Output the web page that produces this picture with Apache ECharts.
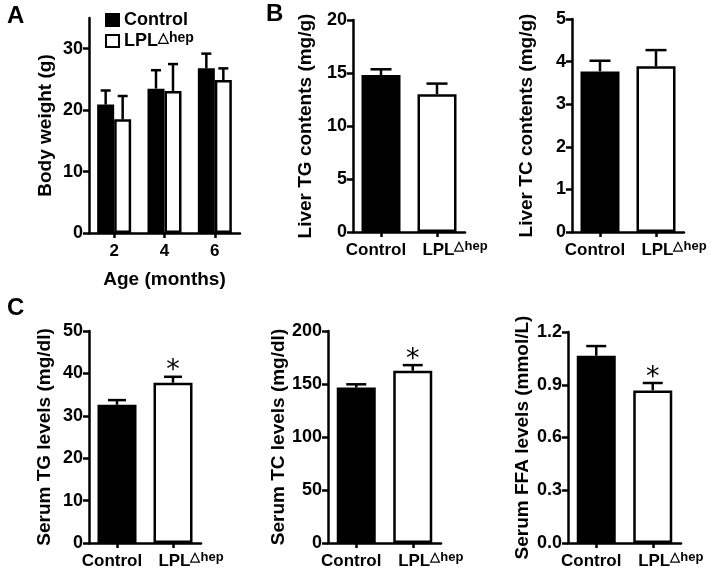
<!DOCTYPE html>
<html>
<head>
<meta charset="utf-8">
<script src="https://cdn.jsdelivr.net/npm/echarts@6/dist/echarts.min.js"></script>
<style>html,body{margin:0;padding:0;background:#fff}#c{width:711px;height:570px}</style>
</head>
<body>
<div id="c"></div>
<script>
// ---- data ----
const ageCats = ['2', '4', '6'];
const bwControl = [20.9, 23.5, 26.8];
const bwControlErr = [2.3, 3.0, 2.4];
const bwLPL = [18.5, 23.1, 24.9];
const bwLPLErr = [3.8, 4.4, 1.9];

const groupCats = ['Control', 'LPL△hep'];
const liverTG = [14.8, 13.0];
const liverTGErr = [0.55, 1.0];
const liverTC = [3.77, 3.89];
const liverTCErr = [0.25, 0.38];
const serumTG = [32.6, 37.8];
const serumTGErr = [1.1, 1.4];
const serumTC = [146.6, 162.5];
const serumTCErr = [3.1, 5.3];
const serumFFA = [1.065, 0.868];
const serumFFAErr = [0.055, 0.042];
const sigTG = [false, true];
const sigTC = [false, true];
const sigFFA = [false, true];

const bwTicks = [0, 10, 20, 30];

// ---- styling ----
const FONT = "'Liberation Sans', Arial, Helvetica, sans-serif";
const AX_W = 2.5;
const chart = echarts.init(document.getElementById('c'), null, {renderer: 'canvas'});

const grids = [
  {left: 89, top: 18, width: 151, height: 215},   // A
  {left: 353, top: 20, width: 112, height: 212},  // B left
  {left: 572, top: 19, width: 112, height: 213},  // B right
  {left: 89, top: 331, width: 112, height: 213},  // C left
  {left: 328, top: 331, width: 113, height: 213}, // C mid
  {left: 568, top: 332, width: 113, height: 213}  // C right
];

const axisLineStyle = {show: true, lineStyle: {color: '#000', width: AX_W}};
const tickStyle = {show: true, length: 6, lineStyle: {color: '#000', width: AX_W}};

function catLabelFormatter(v) {
  if (v === 'LPL△hep') return '{pad|}{a|LPL}{b|△hep}';
  if (v === 'Control') return '{a|Control}{pr|}';
  return '{a|' + v + '}';
}
const catRich = {
  a: {fontFamily: FONT, fontWeight: 'bold', fontSize: 17, color: '#000', lineHeight: 20},
  b: {fontFamily: FONT, fontWeight: 'bold', fontSize: 13, color: '#000', verticalAlign: 'top', lineHeight: 20, padding: [0, 0, 6, 0]},
  pad: {width: 36},
  pr: {width: 10}
};

function xAxisCat(gi, cats, extra) {
  return Object.assign({
    type: 'category', gridIndex: gi, data: cats,
    axisLine: axisLineStyle,
    axisTick: {show: true, alignWithLabel: true, length: 5, lineStyle: {color: '#000', width: AX_W}},
    axisLabel: {margin: 8, formatter: catLabelFormatter, rich: catRich, interval: 0},
    splitLine: {show: false}
  }, extra || {});
}
function yAxisVal(gi, max, interval, name, nameGap, fmt, custom) {
  const ax = {
    type: 'value', gridIndex: gi, min: 0, max: max, interval: interval,
    name: name, nameLocation: 'middle', nameRotate: 90, nameGap: nameGap,
    nameTextStyle: {fontFamily: FONT, fontWeight: 'bold', fontSize: 19, color: '#000'},
    axisLine: axisLineStyle,
    axisTick: Object.assign({}, tickStyle),
    axisLabel: {fontFamily: FONT, fontWeight: 'bold', fontSize: 18, color: '#000', margin: 6},
    splitLine: {show: false}
  };
  if (fmt) ax.axisLabel.formatter = fmt;
  if (custom) {
    ax.axisLabel.customValues = custom;
    ax.axisTick.customValues = custom;
  }
  return ax;
}

function errSeries(xi, yi, vals, errs, offset, cap, sig) {
  return {
    type: 'custom', xAxisIndex: xi, yAxisIndex: yi, z: 5,
    data: vals.map((v, i) => [i, v, errs[i], sig && sig[i] ? 1 : 0]),
    renderItem: function (params, api) {
      const i = api.value(0), v = api.value(1), e = api.value(2), s = api.value(3);
      const p0 = api.coord([i, v]);
      const p1 = api.coord([i, v + e]);
      const x = p0[0] + offset;
      const children = [
        {type: 'line', shape: {x1: x, y1: p0[1], x2: x, y2: p1[1]}, style: {stroke: '#000', lineWidth: 2.5}},
        {type: 'line', shape: {x1: x - cap / 2, y1: p1[1], x2: x + cap / 2, y2: p1[1]}, style: {stroke: '#000', lineWidth: 2.5}}
      ];
      if (s) {
        children.push({type: 'text', style: {text: '*', x: x, y: p1[1] + 8, align: 'center', verticalAlign: 'bottom',
          font: 'normal 27px DejaVu Sans, sans-serif', fill: '#000'}});
      }
      return {type: 'group', children: children};
    }
  };
}

const blackBar = {color: '#000', borderColor: '#000', borderWidth: 2.5};
const whiteBar = {color: '#fff', borderColor: '#000', borderWidth: 2.5};

function singleBars(xi, yi, vals) {
  return {
    type: 'bar', xAxisIndex: xi, yAxisIndex: yi, barWidth: 39,
    data: vals.map((v, i) => ({value: v, itemStyle: i === 0 ? blackBar : whiteBar})),
    z: 3
  };
}

const option = {
  animation: false,
  backgroundColor: '#fff',
  textStyle: {fontFamily: FONT},
  grid: grids,
  legend: {
    orient: 'vertical', left: 100, top: 6, itemWidth: 13, itemHeight: 12, itemGap: 2,
    icon: 'rect', selectedMode: false,
    data: ['Control', 'LPL△hep'],
    formatter: n => n === 'Control' ? '{a|Control}' : '{a|LPL}{b|△hep}',
    textStyle: {
      rich: {
        a: {fontFamily: FONT, fontWeight: 'bold', fontSize: 18, color: '#000', lineHeight: 20},
        b: {fontFamily: FONT, fontWeight: 'bold', fontSize: 14, color: '#000', verticalAlign: 'top', lineHeight: 20, padding: [0, 0, 6, 0]}
      }
    }
  },
  xAxis: [
    xAxisCat(0, ageCats, {
      name: 'Age (months)', nameLocation: 'middle', nameGap: 37,
      nameTextStyle: {fontFamily: FONT, fontWeight: 'bold', fontSize: 19, color: '#000'}
    }),
    xAxisCat(1, groupCats),
    xAxisCat(2, groupCats),
    xAxisCat(3, groupCats),
    xAxisCat(4, groupCats),
    xAxisCat(5, groupCats)
  ],
  yAxis: [
    yAxisVal(0, 35, 5, 'Body weight (g)', 34, null, bwTicks),
    yAxisVal(1, 20, 5, 'Liver TG contents (mg/g)', 38),
    yAxisVal(2, 5, 1, 'Liver TC contents (mg/g)', 36),
    yAxisVal(3, 50, 10, 'Serum TG levels (mg/dl)', 35),
    yAxisVal(4, 200, 50, 'Serum TC levels (mg/dl)', 40),
    yAxisVal(5, 1.2, 0.3, 'Serum FFA levels (mmol/L)', 36, v => v.toFixed(1))
  ],
  series: [
    {name: 'Control', type: 'bar', xAxisIndex: 0, yAxisIndex: 0, data: bwControl, barWidth: 17, barGap: '0%', itemStyle: blackBar, z: 3},
    {name: 'LPL△hep', type: 'bar', xAxisIndex: 0, yAxisIndex: 0, data: bwLPL, barWidth: 17, barGap: '0%', itemStyle: whiteBar, z: 3},
    errSeries(0, 0, bwControl, bwControlErr, -8.5, 10),
    errSeries(0, 0, bwLPL, bwLPLErr, 8.5, 10),
    singleBars(1, 1, liverTG),
    errSeries(1, 1, liverTG, liverTGErr, 0, 21),
    singleBars(2, 2, liverTC),
    errSeries(2, 2, liverTC, liverTCErr, 0, 21),
    singleBars(3, 3, serumTG),
    errSeries(3, 3, serumTG, serumTGErr, 0, 18, sigTG),
    singleBars(4, 4, serumTC),
    errSeries(4, 4, serumTC, serumTCErr, 0, 20, sigTC),
    singleBars(5, 5, serumFFA),
    errSeries(5, 5, serumFFA, serumFFAErr, 0, 20, sigFFA)
  ],
  graphic: [
    {type: 'text', left: 7, top: 4, style: {text: 'A', font: 'bold 24px ' + FONT, fill: '#000'}},
    {type: 'text', left: 266, top: 2, style: {text: 'B', font: 'bold 24px ' + FONT, fill: '#000'}},
    {type: 'text', left: 7, top: 296, style: {text: 'C', font: 'bold 24px ' + FONT, fill: '#000'}}
  ]
};
chart.setOption(option);
</script>
</body>
</html>
